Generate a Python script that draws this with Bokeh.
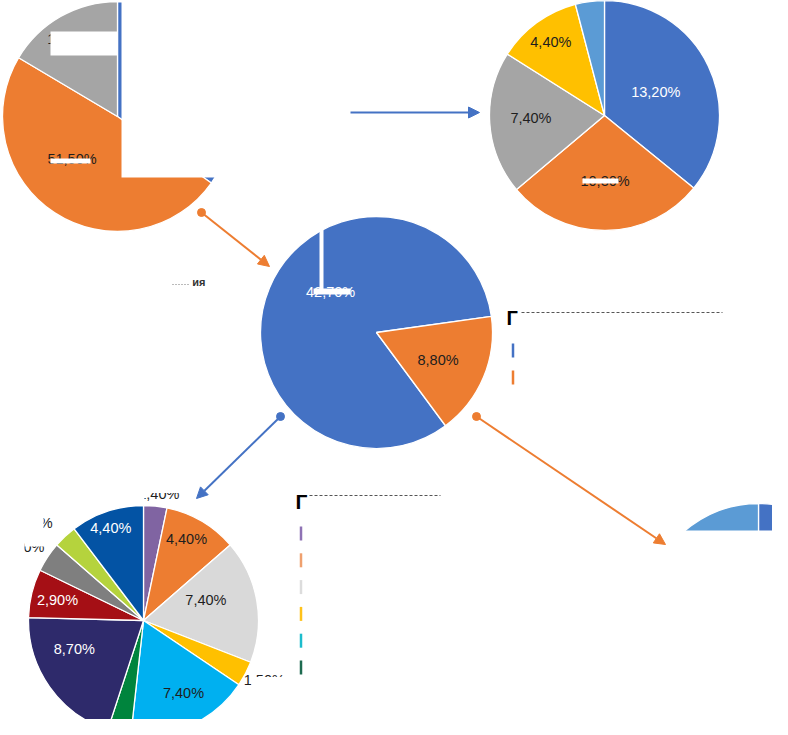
import numpy as np
from bokeh.plotting import figure
from bokeh.models import Range1d, Arrow, NormalHead, ColumnDataSource
from bokeh.core.properties import value
from bokeh.embed import file_html
from bokeh.resources import INLINE

# ---------------- data ----------------
tl_values = [36.8, 51.5, 17.4]
tl_labels = ["36,80%", "51,50%", "17,40%"]
tl_colors = ["#4472C4", "#ED7D31", "#A5A5A5"]

tr_values = [13.2, 10.3, 7.4, 4.4, 1.5]
tr_labels = ["13,20%", "10,30%", "7,40%", "4,40%", "1,50%"]
tr_colors = ["#4472C4", "#ED7D31", "#A5A5A5", "#FFC000", "#5B9BD5"]

c_values = [42.7, 8.8]
c_labels = ["42,70%", "8,80%"]
c_colors = ["#4472C4", "#ED7D31"]

bl_values = [1.4, 4.4, 7.4, 1.5, 7.4, 1.4, 8.7, 2.9, 1.8, 1.4, 4.4]
bl_labels = ["1,40%", "4,40%", "7,40%", "1,50%", "7,40%", "1,40%",
             "8,70%", "2,90%", "1,80%", "1,40%", "4,40%"]
bl_colors = ["#8064A2", "#ED7D31", "#D9D9D9", "#FFC000", "#00B0F0", "#00843D",
             "#2E2A6B", "#A50F15", "#7F7F7F", "#B5D33D", "#0353A4"]

br_values = [7.0, 1.8]
br_colors = ["#4472C4", "#5B9BD5"]

legend_c_colors = ["#4472C4", "#ED7D31"]
legend_bl_colors = ["#8E72B4", "#EFA06E", "#DCDCDC", "#FFC21A", "#1CBCCC", "#1E6B50"]

# ---------------- layout ----------------
H = 735  # image height, y is flipped
W_FIG, H_FIG = 772, 719
DARK = "#1E1E1E"
FONT = value("Liberation Sans")

p = figure(width=W_FIG, height=H_FIG, x_range=Range1d(0, W_FIG), y_range=Range1d(H - H_FIG, H),
           output_backend="svg", toolbar_location=None,
           x_axis_location=None, y_axis_location=None, min_border=0)
p.grid.visible = False
p.outline_line_color = None
p.background_fill_color = "white"


def fy(y):
    return H - y


def draw_pie(cx, cy, R, vals, cols, start):
    tot = float(sum(vals))
    cum = np.concatenate([[0.0], np.cumsum(vals)]) / tot * 360.0 + start
    s, e = cum[:-1], cum[1:]
    src = ColumnDataSource(dict(start=np.radians(90 - s), end=np.radians(90 - e), color=cols))
    p.wedge(x=cx, y=fy(cy), radius=R, start_angle="start", end_angle="end",
            direction="clock", fill_color="color", line_color="white",
            line_width=1.3, source=src)
    return s, e


def draw_labels(cx, cy, R, s, e, labels, rf, dth, tcols):
    xs, ys, ts, cs = [], [], [], []
    for i, lab in enumerate(labels):
        if rf[i] is None:
            continue
        th = np.radians((s[i] + e[i]) / 2 + dth[i])
        xs.append(cx + rf[i] * R * np.sin(th))
        ys.append(fy(cy - rf[i] * R * np.cos(th)))
        ts.append(lab)
        cs.append(tcols[i])
    src = ColumnDataSource(dict(x=xs, y=ys, t=ts, c=cs))
    p.text(x="x", y="y", text="t", text_color="c", source=src,
           text_align="center", text_baseline="middle",
           text_font=FONT, text_font_size="14.5px")


W = "white"
# top-left pie
s, e = draw_pie(117, 116, 115, tl_values, tl_colors, 0)
draw_labels(117, 116, 115, s, e, tl_labels, [None, 0.54, 0.78], [0, 14, -1], [W, DARK, DARK])

# top-right pie
s, e = draw_pie(604, 115, 115, tr_values, tr_colors, 0)
draw_labels(604, 115, 115, s, e, tr_labels, [0.49, 0.57, 0.64, 0.79, None], [1, 0, 2, 0, 0],
            [W, DARK, DARK, DARK, DARK])

# centre pie
s, e = draw_pie(376, 332, 116, c_values, c_colors, 143.5)
draw_labels(376, 332, 116, s, e, c_labels, [0.53, 0.58], [19, 1], [W, DARK])

# bottom-left pie
s, e = draw_pie(143, 620, 115, bl_values, bl_colors, 0)
draw_labels(143, 620, 115, s, e, bl_labels,
            [1.11, 0.8, 0.57, 1.17, 0.72, None, 0.65, 0.77, 1.22, 1.29, 0.85],
            [1, -2.5, -8, -1.5, -4, 0, 13, 0, -2, -5.7, -1],
            [DARK, DARK, DARK, DARK, DARK, DARK, W, W, DARK, DARK, W])

# bottom-right pie (mostly hidden)
draw_pie(758, 616, 113, br_values, br_colors, 0)

# ---------------- white redaction blocks (image coords) ----------------
covers = [
    (121, 0, 250, 177),    # top-left pie right part
    (50, 31, 117, 55),     # top-left gray label
    (50, 158, 90, 163),    # strike 51,50%
    (582, 178, 618, 183),  # strike 10,30%
    (313, 288, 350, 294),  # strike 42,70%
    (319, 228, 323, 292),  # vertical bar in centre pie
    (640, 530, 790, 740),  # bottom-right pie
    (128, 480, 144, 503),  # purple label left
    (144, 480, 182, 492.5),  # purple label top
    (251, 676.5, 292, 692),  # 1,50% lower half
    (0, 511, 43, 533),     # outside label left
    (0, 538, 24, 560),     # outside label left 2
    (24, 538, 44, 546),
]
p.quad(left=[c[0] for c in covers], right=[c[2] for c in covers],
       bottom=[fy(c[3]) for c in covers], top=[fy(c[1]) for c in covers],
       fill_color="white", line_color=None)

# ---------------- arrows ----------------
BLUE, ORANGE = "#4472C4", "#ED7D31"
arrows = [
    ((350, 112), (479, 112), BLUE, False),
    ((201, 212), (269, 266), ORANGE, True),
    ((280, 416), (196, 498), BLUE, True),
    ((476, 416), (665, 544), ORANGE, True),
]
for (x0, y0), (x1, y1), col, dot in arrows:
    p.add_layout(Arrow(end=NormalHead(size=11, fill_color=col, line_color=col),
                       x_start=x0, y_start=fy(y0), x_end=x1, y_end=fy(y1),
                       line_color=col, line_width=2))
    if dot:
        p.scatter(x=[x0], y=[fy(y0)], size=8, fill_color=col, line_color=col)

# ---------------- legends ----------------
# centre legend
p.text(x=[506], y=[fy(317)], text=["Г"], text_font=FONT, text_font_style="bold",
       text_font_size="20px", text_color="black", text_align="left", text_baseline="middle")
p.line(x=[521, 722], y=[fy(312), fy(312)], line_color="#555555", line_width=1, line_dash="3 2")
for i, col in enumerate(legend_c_colors):
    yc = 350 + i * 27
    p.segment(x0=[512.5], y0=[fy(yc - 7)], x1=[512.5], y1=[fy(yc + 7)], line_color=col, line_width=2.5)

# bottom legend
p.text(x=[295], y=[fy(501)], text=["Г"], text_font=FONT, text_font_style="bold",
       text_font_size="21px", text_color="black", text_align="left", text_baseline="middle")
p.line(x=[309, 440], y=[fy(495), fy(495)], line_color="#555555", line_width=1, line_dash="3 2")
for i, col in enumerate(legend_bl_colors):
    yc = 533 + i * 26.8
    p.segment(x0=[300.5], y0=[fy(yc - 7)], x1=[300.5], y1=[fy(yc + 7)], line_color=col, line_width=2.5)

# small residual caption
p.text(x=[205], y=[fy(281)], text=["ия"], text_font=FONT, text_font_style="bold",
       text_font_size="11px", text_color="#333333", text_align="right", text_baseline="middle")
p.line(x=[172, 190], y=[fy(284), fy(284)], line_color="#777777", line_width=1, line_dash="1 2")

open("out.html", "w").write(file_html(p, INLINE))
